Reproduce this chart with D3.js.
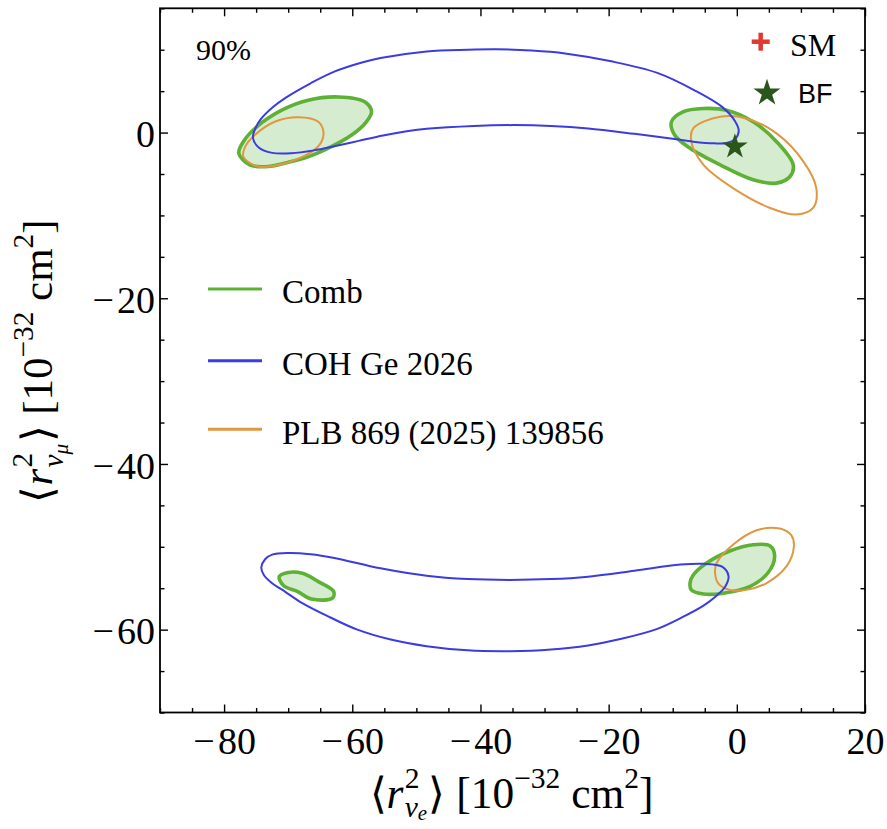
<!DOCTYPE html>
<html>
<head>
<meta charset="utf-8">
<script src="https://cdn.jsdelivr.net/npm/d3@7"></script>
<style>
  html, body { margin: 0; padding: 0; background: #ffffff; }
  svg { display: block; }
</style>
</head>
<body>
<svg id="chart" width="887" height="829"></svg>
<script>
// 90% CL allowed regions in the (<r^2_nu_e>, <r^2_nu_mu>) plane, units 1e-32 cm^2.
// Each region is a closed contour given as [x, y] points.

// Combined fit (green, filled)
const combUpperLeft = [[-77.7,-2.5],[-76.0,-3.9],[-73.1,-4.1],[-69.5,-3.5],[-66.8,-2.9],[-64.3,-2.1],[-60.1,-0.3],[-57.8,1.3],[-57.0,2.5],[-58.0,3.7],[-62.2,4.3],[-66.9,3.9],[-71.0,2.7],[-74.9,0.7],[-77.0,-1.1]];
const combUpperRight = [[-10.2,1.3],[-8.4,2.5],[-5.2,2.9],[-1.6,2.7],[2.55,1.3],[6.2,-1.1],[8.8,-3.9],[8.3,-5.3],[6.2,-6.1],[2.55,-5.7],[-2.6,-3.9],[-7.3,-1.9],[-9.7,-0.3]];
const combLowerLeft = [[-71.4,-53.6],[-70.0,-53.1],[-67.8,-53.2],[-65.3,-54.2],[-62.9,-55.4],[-63.1,-56.2],[-66.4,-56.3],[-68.5,-55.4],[-70.7,-54.7]];
const combLowerRight = [[-7.3,-54.4],[-6.8,-53.4],[-4.7,-51.95],[-1.1,-50.5],[2.55,-49.75],[5.2,-49.9],[5.9,-51.1],[4.9,-53.1],[2.0,-54.8],[-2.1,-55.6],[-5.2,-55.7],[-7.1,-55.2]];

// COH Ge 2026 (blue)
const cohUpper = [[-75.5,-0.6],[-75.0,0.7],[-74.3,1.6],[-72.5,3.0],[-70.3,4.25],[-66.5,5.95],[-62.8,7.35],[-58.5,8.45],[-55.6,9.0],[-48.4,9.8],[-42.0,10.0],[-37.5,10.05],[-32.0,9.9],[-26.8,9.55],[-19.6,8.6],[-12.4,7.2],[-6.6,5.1],[-2.3,3.1],[-0.3,1.4],[0.3,0.2],[-0.3,-0.8],[-1.6,-1.25],[-3.5,-1.3],[-6.8,-1.1],[-10.0,-0.75],[-16.0,-0.15],[-23.2,0.5],[-29.0,0.8],[-34.7,0.9],[-41.0,0.8],[-48.4,0.45],[-51.5,0.15],[-55.2,-0.35],[-59.0,-1.0],[-62.8,-1.65],[-66.0,-2.15],[-69.5,-2.5],[-72.5,-2.45],[-74.6,-1.8]];
const cohLower = [[-74.2,-52.5],[-73.6,-51.5],[-72.5,-50.95],[-70.0,-50.75],[-66.5,-50.9],[-62.8,-51.35],[-55.6,-52.6],[-48.4,-53.5],[-42.0,-53.9],[-35.4,-54.0],[-29.0,-53.9],[-23.2,-53.6],[-16.0,-52.9],[-8.8,-52.15],[-5.2,-52.05],[-2.3,-52.4],[-1.3,-53.5],[-1.8,-54.8],[-3.3,-56.0],[-5.2,-57.1],[-8.5,-58.5],[-12.4,-59.9],[-18.0,-61.1],[-23.2,-61.9],[-29.0,-62.4],[-35.4,-62.6],[-42.0,-62.5],[-48.4,-62.0],[-54.0,-61.2],[-59.2,-60.0],[-63.5,-58.5],[-67.8,-56.8],[-70.5,-55.4],[-72.5,-54.4],[-73.8,-53.4]];

// PLB 869 (2025) 139856 (orange)
const plbUpperLeft = [[-77.0,-2.9],[-74.7,-4.1],[-70.5,-3.7],[-66.3,-2.3],[-64.8,-1.1],[-64.5,0.1],[-65.3,1.3],[-68.4,1.85],[-72.1,1.3],[-75.2,-0.3],[-76.7,-1.7]];
const plbUpperRight = [[-6.8,0.5],[-2.6,1.9],[1.5,1.7],[6.2,-0.1],[10.4,-3.5],[12.4,-6.7],[11.9,-9.1],[9.3,-9.9],[5.2,-9.1],[-0.6,-6.7],[-5.2,-3.9],[-7.1,-1.1]];
const plbLowerRight = [[-3.4,-53.1],[-3.15,-51.95],[-0.6,-49.75],[3.1,-48.0],[6.7,-47.8],[8.5,-48.6],[8.9,-50.0],[7.8,-52.3],[4.6,-54.4],[1.5,-55.2],[-1.1,-55.2],[-2.9,-54.4]];

// Best-fit point
const bestFit = [-0.3, -1.7];

// Axis ticks and legend entries
const xMajorTicks = [-80, -60, -40, -20, 0, 20];
const yMajorTicks = [-60, -40, -20, 0];
const minorStep = 5;
const legendLabels = ["Comb", "COH Ge 2026", "PLB 869 (2025) 139856"];
const clLabel = "90%";
const markerLabels = ["SM", "BF"];

// pick the first installed serif face (canvas width probe), else generic serif
function pickFont(cands, generic) {
  const ctx = document.createElement("canvas").getContext("2d");
  const probe = "mmmmmmmmmmlliWQ0123456789@#";
  const gens = ["monospace", "sans-serif", "serif"];
  const base = gens.map(g => { ctx.font = `72px ${g}`; return ctx.measureText(probe).width; });
  for (const f of cands) {
    const found = gens.some((g, i) => { ctx.font = `72px "${f}", ${g}`; return ctx.measureText(probe).width !== base[i]; });
    if (found) return `"${f}", ${generic}`;
  }
  return generic;
}
const SERIF = pickFont(["Liberation Serif", "Tinos", "Times New Roman", "Times", "Nimbus Roman", "Nimbus Roman No9 L",
  "TeX Gyre Termes", "FreeSerif", "DejaVu Serif", "Noto Serif", "Noto Serif Display", "Source Serif 4", "Source Serif Pro",
  "PT Serif", "Georgia", "Gelasio", "Caladea", "STIX Two Text", "STIXGeneral", "Libertinus Serif", "Linux Libertine O",
  "Crimson Pro", "Crimson Text", "EB Garamond", "Lora", "Merriweather", "Roboto Serif", "Roboto Slab",
  "Noto Serif CJK SC", "Noto Serif CJK JP", "Bitstream Vera Serif", "Droid Serif", "C059", "P052"], "serif");
const SANS = "'Liberation Sans', Arial, Helvetica, sans-serif";

const colComb = "#5db134", colCombFill = "#d6ecd0", colCoh = "#3b3be2", colPlb = "#e0973f";
const colStar = "#2a561c", colSM = "#e03a30";
const legendColors = [colComb, colCoh, colPlb];

const svg = d3.select("#chart");
const L = 160, R = 865, T = 8.3, B = 712.5;
const x = d3.scaleLinear().domain([-90, 20]).range([L, R]);
const y = d3.scaleLinear().domain([-70, 15]).range([B, T]);

const line = d3.line().x(d => x(d[0])).y(d => y(d[1])).curve(d3.curveCatmullRomClosed.alpha(0.5));

const plot = svg.append("g");

// filled combined regions
[combUpperLeft, combUpperRight, combLowerLeft, combLowerRight].forEach(c => {
  plot.append("path").attr("d", line(c))
    .attr("fill", colCombFill).attr("stroke", colComb).attr("stroke-width", 3.6)
    .attr("stroke-linejoin", "round");
});
[plbUpperLeft, plbUpperRight, plbLowerRight].forEach(c => {
  plot.append("path").attr("d", line(c))
    .attr("fill", "none").attr("stroke", colPlb).attr("stroke-width", 2);
});
[cohUpper, cohLower].forEach(c => {
  plot.append("path").attr("d", line(c))
    .attr("fill", "none").attr("stroke", colCoh).attr("stroke-width", 2);
});

// best-fit star
const starR = 13.5;
plot.append("path")
  .attr("d", d3.symbol(d3.symbolStar, starR * starR / 0.8908130915292852)())
  .attr("transform", `translate(${x(bestFit[0])},${y(bestFit[1])})`)
  .attr("fill", colStar);

// frame with inward ticks on all four sides
const fmt = v => v < 0 ? "\u2212\u200A" + Math.abs(v) : String(v);
const xMinor = d3.range(-90, 20 + 0.1, minorStep).filter(v => !xMajorTicks.includes(v));
const yMinor = d3.range(-70, 15 + 0.1, minorStep).filter(v => !yMajorTicks.includes(v));

function addAxis(gen, tr, ticks, size, labels) {
  const g = svg.append("g").attr("transform", tr)
    .call(gen.tickValues(ticks).tickSize(-size).tickPadding(labels ? 15 : 0)
      .tickFormat(labels ? fmt : () => ""));
  g.select(".domain").remove();
  g.attr("font-family", null).attr("font-size", null);
  g.selectAll(".tick line").attr("stroke", "#000").attr("stroke-width", 1.4);
  g.selectAll(".tick text").attr("fill", "#000").style("font-family", SERIF).style("font-size", "38px");
  if (!labels) g.selectAll(".tick text").remove();
  return g;
}
addAxis(d3.axisBottom(x), `translate(0,${B})`, xMajorTicks, 8, true);
addAxis(d3.axisBottom(x), `translate(0,${B})`, xMinor, 4.5, false);
addAxis(d3.axisTop(x), `translate(0,${T})`, xMajorTicks, 8, false);
addAxis(d3.axisTop(x), `translate(0,${T})`, xMinor, 4.5, false);
const gyl = addAxis(d3.axisLeft(y), `translate(${L},0)`, yMajorTicks, 8, true);
addAxis(d3.axisLeft(y), `translate(${L},0)`, yMinor, 4.5, false);
addAxis(d3.axisRight(y), `translate(${R},0)`, yMajorTicks, 8, false);
addAxis(d3.axisRight(y), `translate(${R},0)`, yMinor, 4.5, false);
gyl.selectAll(".tick text").attr("x", -5).attr("dy", "0.37em");

svg.append("rect").attr("x", L).attr("y", T).attr("width", R - L).attr("height", B - T)
  .attr("fill", "none").attr("stroke", "#000").attr("stroke-width", 1.8);

// math-style axis title: one <text>, pieces placed as measured tspans,
// font size adjusted so the whole label spans `width` pixels
function mathLabel(parent, parts, size, width) {
  const text = parent.append("text").attr("fill", "#000").style("font-family", SERIF);
  function layout(sz) {
    text.selectAll("tspan").remove();
    let cx = 0, maxX = 0, markX = 0;
    parts.forEach(p => {
      const isScript = p.s !== undefined;
      if (!isScript) cx = maxX;
      if (p.back) cx = markX;
      if (p.mark) markX = cx;
      cx += (p.pre || 0) * sz;
      const ts = text.append("tspan")
        .attr("x", cx).attr("y", -(p.up || 0) * sz)
        .style("font-size", (sz * (p.s || 1)) + "px")
        .style("font-style", p.it ? "italic" : "normal")
        .text(p.t);
      cx += ts.node().getComputedTextLength() + (p.pad || 0) * sz;
      maxX = Math.max(maxX, cx);
    });
    return maxX;
  }
  let w = layout(size);
  const sz = Math.max(size * 0.85, Math.min(size * 1.15, size * width / w));
  w = layout(sz);
  text.attr("transform", `translate(${-w / 2},0)`);
  return text;
}
const titleSize = 42;
const xTitle = svg.append("g").attr("transform", `translate(511.5,808)`);
mathLabel(xTitle, [
  {t: "\u27E8"}, {t: "r", it: true, pad: 0.03},
  {t: "2", s: 0.68, up: 0.47, mark: true},
  {t: "\u03BD", s: 0.68, up: -0.2, it: true, back: true},
  {t: "e", s: 0.48, up: -0.27, it: true, pad: 0.03},
  {t: "\u27E9"}, {t: "[10", pre: 0.25}, {t: "\u221232", s: 0.68, up: 0.45},
  {t: "cm", pre: 0.25}, {t: "2", s: 0.68, up: 0.45}, {t: "]"}
], titleSize, 283);

const yTitle = svg.append("g").attr("transform", `translate(52,361) rotate(-90)`);
mathLabel(yTitle, [
  {t: "\u27E8"}, {t: "r", it: true, pad: 0.03},
  {t: "2", s: 0.68, up: 0.47, mark: true},
  {t: "\u03BD", s: 0.68, up: -0.25, it: true, back: true},
  {t: "\u03BC", s: 0.5, up: -0.38, it: true, pad: 0.03},
  {t: "\u27E9"}, {t: "[10", pre: 0.25}, {t: "\u221232", s: 0.68, up: 0.45},
  {t: "cm", pre: 0.25}, {t: "2", s: 0.68, up: 0.45}, {t: "]"}
], titleSize, 282);

// confidence level tag
svg.append("text").attr("x", 196).attr("y", 60)
  .style("font-family", SERIF).style("font-size", "30px").attr("fill", "#000").text(clLabel);

// SM / BF markers key
const sm = svg.append("g").attr("transform", "translate(760.7,41.7)");
sm.append("line").attr("x1", -9).attr("x2", 9).attr("stroke", colSM).attr("stroke-width", 4.5);
sm.append("line").attr("y1", -9).attr("y2", 9).attr("stroke", colSM).attr("stroke-width", 4.5);
svg.append("text").attr("x", 790).attr("y", 56)
  .style("font-family", SERIF).style("font-size", "32px").attr("fill", "#000").text(markerLabels[0]);
svg.append("path")
  .attr("d", d3.symbol(d3.symbolStar, 14.2 * 14.2 / 0.8908130915292852)())
  .attr("transform", "translate(767,93)").attr("fill", colStar);
svg.append("text").attr("x", 798).attr("y", 103)
  .style("font-family", SANS).style("font-size", "27px").attr("fill", "#000").text(markerLabels[1]);

// contour legend
const legY = [289, 360.7, 429.3];
legendLabels.forEach((lab, i) => {
  svg.append("line").attr("x1", 208).attr("x2", 262).attr("y1", legY[i]).attr("y2", legY[i])
    .attr("stroke", legendColors[i]).attr("stroke-width", 3);
  svg.append("text").attr("x", 282).attr("y", legY[i] + 14.3)
    .style("font-family", SERIF).style("font-size", "33px").attr("fill", "#000").text(lab);
});
</script>
</body>
</html>
